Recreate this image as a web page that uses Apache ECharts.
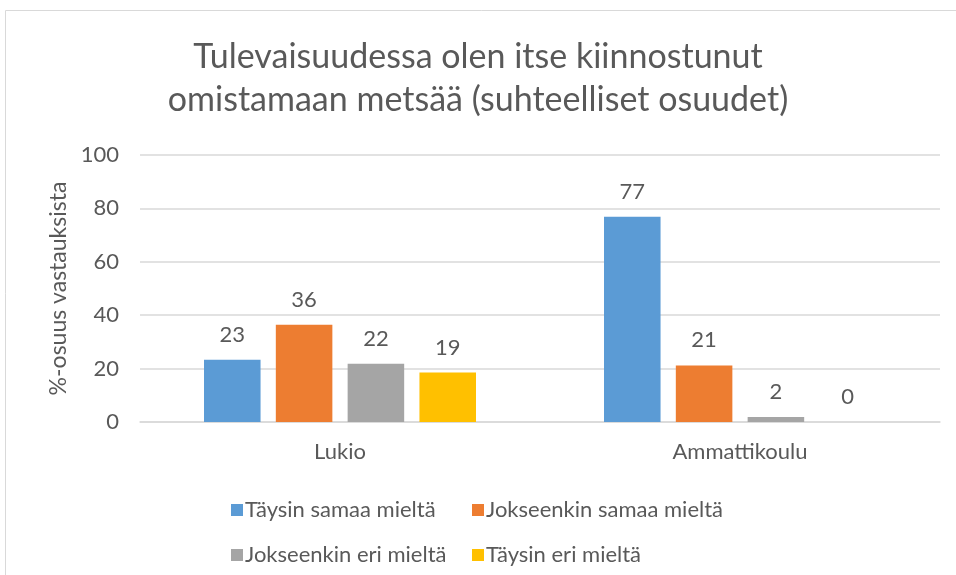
<!DOCTYPE html>
<html>
<head>
<meta charset="utf-8">
<script src="https://cdn.jsdelivr.net/npm/echarts@6/dist/echarts.min.js"></script>
<style>
	html, body { margin: 0; padding: 0; background: #fff; }
	#chart { width: 956px; height: 575px; }
</style>
</head>
<body>
<div id="chart"></div>
<script>
	// data
	var categories = ['Lukio', 'Ammattikoulu'];
	var seriesNames = ['Täysin samaa mieltä', 'Jokseenkin samaa mieltä', 'Jokseenkin eri mieltä', 'Täysin eri mieltä'];
	var taysinSamaa = [23.3, 76.9];
	var jokseenkinSamaa = [36.4, 21.2];
	var jokseenkinEri = [21.8, 1.9];
	var taysinEri = [18.5, 0];
	var yTicks = [0, 20, 40, 60, 80, 100];

	var colors = ['#5B9BD5', '#ED7D31', '#A5A5A5', '#FFC000'];
	var font = 'Lato, "Open Sans", sans-serif';
	var textColor = '#595959';

	var chart = echarts.init(document.getElementById('chart'));

	var values = [taysinSamaa, jokseenkinSamaa, jokseenkinEri, taysinEri];
	var series = values.map(function(vals, i){
		return {
			name: seriesNames[i],
			type: 'bar',
			data: vals,
			itemStyle: { color: colors[i] },
			barGap: '27%',
			barCategoryGap: '32%',
			label: {
				show: true,
				position: 'top',
				distance: 14,
				color: textColor,
				fontSize: 22,
				fontFamily: font,
				formatter: function(p){ return Math.round(p.value); }
			}
		};
	});

	// one legend per item so the two rows line up in columns
	var legendPos = [[226, 494], [467, 494], [226, 539], [467, 539]];
	var legends = seriesNames.map(function(n, i){
		return {
			data: [n],
			left: legendPos[i][0],
			top: legendPos[i][1],
			icon: 'rect',
			itemWidth: 12,
			itemHeight: 12,
			itemGap: 0,
			textStyle: { color: textColor, fontSize: 22, fontFamily: font, padding: [0, 0, 0, -3] },
			selectedMode: false
		};
	});

	var option = {
		animation: false,
		color: colors,
		textStyle: { fontFamily: font },
		title: {
			text: 'Tulevaisuudessa olen itse kiinnostunut\nomistamaan metsää (suhteelliset osuudet)',
			left: 'center',
			top: 31,
			textStyle: { color: textColor, fontSize: 34, fontWeight: 'normal', lineHeight: 43, fontFamily: font }
		},
		legend: legends,
		grid: { left: 140, right: 16, top: 155, bottom: 153 },
		xAxis: {
			type: 'category',
			data: categories,
			axisTick: { show: false },
			axisLine: { lineStyle: { color: '#d9d9d9', width: 1.5 } },
			axisLabel: { color: textColor, fontSize: 22, margin: 19, fontFamily: font }
		},
		yAxis: {
			type: 'value',
			min: yTicks[0],
			max: yTicks[yTicks.length - 1],
			interval: yTicks[1] - yTicks[0],
			name: '%-osuus vastauksista',
			nameLocation: 'middle',
			nameGap: 58,
			nameTextStyle: { color: textColor, fontSize: 23, fontFamily: font },
			axisLine: { show: false },
			axisTick: { show: false },
			axisLabel: { color: textColor, fontSize: 22, margin: 21, fontFamily: font },
			splitLine: { lineStyle: { color: '#d9d9d9', width: 1.5 } }
		},
		graphic: [{
			type: 'rect',
			shape: { x: 5.5, y: 10.5, width: 1000, height: 1000 },
			style: { fill: 'none', stroke: '#d9d9d9', lineWidth: 1 },
			silent: true
		}],
		series: series
	};

	chart.setOption(option);
</script>
</body>
</html>
